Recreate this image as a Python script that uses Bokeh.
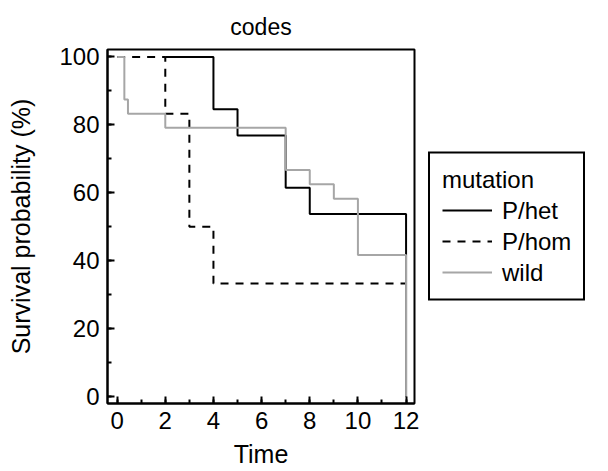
from bokeh.plotting import figure
from bokeh.models import Legend, LegendItem, SingleIntervalTicker, Range1d
from bokeh.embed import file_html
from bokeh.resources import INLINE

# data (Kaplan-Meier steps)
het_time = [2, 4, 5, 7, 8, 12]
het_surv = [100, 84.6, 76.9, 61.5, 53.8, 0]
hom_time = [0, 2, 3, 4, 12]
hom_surv = [100, 83.3, 50, 33.3, 33.3]
wild_time = [0, 0.3, 0.45, 2, 7, 8, 9, 10, 12]
wild_surv = [100, 87.5, 83.3, 79.2, 66.7, 62.5, 58.3, 41.7, 0]
x_ticks_interval = 2
y_ticks_interval = 20

FONT = "Liberation Sans"

p = figure(frame_width=307, frame_height=354, output_backend="svg", toolbar_location=None,
           x_range=Range1d(-0.4, 12.35), y_range=Range1d(-2, 102.2),
           title="codes", min_border_left=107, min_border_top=49,
           min_border_bottom=60, min_border_right=0)

p.title.align = "center"
p.title.text_font = FONT
p.title.text_font_size = "23px"
p.title.text_font_style = "normal"
p.title.text_color = "black"
p.title.standoff = 20

p.grid.visible = False
p.outline_line_color = "black"
p.outline_line_width = 2

for ax in (p.xaxis[0], p.yaxis[0]):
    ax.axis_line_width = 2
    ax.axis_line_color = "black"
    ax.major_tick_in = 7
    ax.major_tick_out = 0
    ax.minor_tick_in = 4
    ax.minor_tick_out = 0
    ax.major_tick_line_width = 2
    ax.minor_tick_line_width = 2
    ax.major_label_text_font = FONT
    ax.major_label_text_font_size = "24px"
    ax.major_label_text_color = "black"
    ax.axis_label_text_font = FONT
    ax.axis_label_text_font_size = "25px"
    ax.axis_label_text_font_style = "normal"
    ax.axis_label_text_color = "black"
    ax.major_label_standoff = 8

p.xaxis[0].ticker = SingleIntervalTicker(interval=x_ticks_interval, num_minor_ticks=2)
p.yaxis[0].ticker = SingleIntervalTicker(interval=y_ticks_interval, num_minor_ticks=2)
p.xaxis[0].axis_label = "Time"
p.yaxis[0].axis_label = "Survival probability (%)"
p.xaxis[0].axis_label_standoff = 8
p.yaxis[0].axis_label_standoff = 21

r_hom = p.step(hom_time, hom_surv, mode="after", line_color="black", line_width=2,
               line_dash="8 7")
r_het = p.step(het_time, het_surv, mode="after", line_color="black", line_width=2)
r_wild = p.step(wild_time, wild_surv, mode="after", line_color="#a6a6a6", line_width=2)

legend = Legend(items=[LegendItem(label="P/het", renderers=[r_het]),
                       LegendItem(label="P/hom", renderers=[r_hom]),
                       LegendItem(label="wild", renderers=[r_wild])],
                location="left")
legend.title = "mutation"
legend.title_text_font = FONT
legend.title_text_font_size = "24px"
legend.title_text_font_style = "normal"
legend.title_text_color = "black"
legend.title_standoff = 2
legend.label_text_font = FONT
legend.label_text_font_size = "24px"
legend.label_text_color = "black"
legend.border_line_color = "black"
legend.border_line_alpha = 1
legend.border_line_width = 2
legend.glyph_width = 50
legend.glyph_height = 29
legend.label_height = 29
legend.spacing = 2
legend.padding = 12
legend.margin = 14
legend.label_standoff = 10
legend.background_fill_alpha = 0
p.add_layout(legend, "right")

open("out.html", "w").write(file_html(p, INLINE))
